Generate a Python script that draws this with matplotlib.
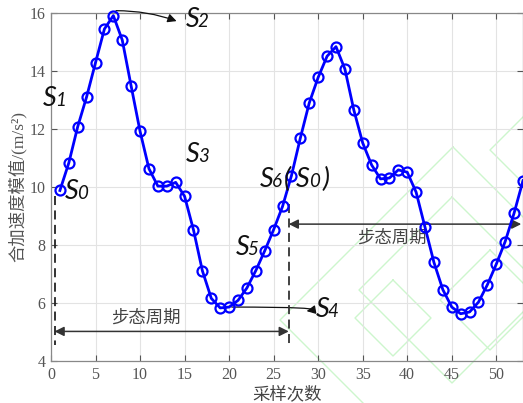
import matplotlib
matplotlib.use("Agg")
import matplotlib.pyplot as plt
from matplotlib.lines import Line2D
import numpy as np

# ---- data ----
samples = list(range(1, 54))
accel = [9.88, 10.83, 12.08, 13.11, 14.29, 15.45, 15.91, 15.07, 13.48, 11.92,
         10.63, 10.03, 10.03, 10.16, 9.68, 8.52, 7.11, 6.16, 5.83, 5.86,
         6.09, 6.52, 7.12, 7.80, 8.53, 9.33, 10.39, 11.69, 12.90, 13.78,
         14.51, 14.84, 14.07, 12.66, 11.52, 10.76, 10.28, 10.31, 10.59, 10.51,
         9.82, 8.61, 7.40, 6.46, 5.86, 5.63, 5.69, 6.03, 6.63, 7.34,
         8.12, 9.10, 10.22]
xticks = [0, 5, 10, 15, 20, 25, 30, 35, 40, 45, 50]
yticks = [4, 6, 8, 10, 12, 14, 16]
xlabel = "采样次数"
ylabel = "合加速度模值/(m/s²)"
period_label = "步态周期"
cycle_start = 0.4
cycle_end = 26.7
cycle2_end = 52.8

serif_cjk = ['Liberation Serif', 'Noto Sans CJK SC']
label_family = ['Lato', 'DejaVu Sans']
W, H = 523, 403

fig = plt.figure(figsize=(5.23, 4.03), dpi=100)
ax = fig.add_axes([51/W, 1-361/H, (W-51)/W, (361-13)/H])
ax.patch.set_alpha(0)

# faint green watermark diamonds (background decoration)
def diamond(cx, cy, r):
    xs = np.array([cx, cx + r, cx, cx - r, cx]) / W
    ys = 1 - np.array([cy - r, cy, cy + r, cy, cy - r]) / H
    fig.add_artist(Line2D(xs, ys, transform=fig.transFigure, color='#cdf6cd',
                          lw=1.0, zorder=-1))
for cx, cy, r in [(453, 320, 173), (452, 290, 93), (393, 318, 38),
                  (490, 300, 50), (560, 150, 70)]:
    diamond(cx, cy, r)

ax.plot(samples, accel, color='#0000ff', lw=2.0, marker='o', ms=7.2,
        mfc='none', mec='#0000ff', mew=1.6, zorder=5, clip_on=False)

ax.set_xlim(0, 53)
ax.set_ylim(4, 16)
ax.set_xticks(xticks)
ax.set_yticks(yticks)
ax.grid(True, color='#e3e3e3', lw=0.8)
ax.set_axisbelow(True)
ax.tick_params(direction='in', length=4, colors='#555555', labelsize=11.5,
               top=True, right=True, width=0.8, pad=4)
for lab in ax.get_xticklabels() + ax.get_yticklabels():
    lab.set_family('Liberation Serif')
    lab.set_color('#555555')
for s in ax.spines.values():
    s.set_color('#888888')
    s.set_linewidth(0.9)

ax.set_xlabel(xlabel, family=serif_cjk, fontsize=12.5, color='#444444', labelpad=3)
ax.set_ylabel(ylabel, family=serif_cjk, fontsize=12.5, color='#555555', labelpad=2)

# dashed cycle boundaries
ax.plot([cycle_start, cycle_start], [9.7, 4.55], ls=(0, (5, 3)), color='#222222', lw=1.3, zorder=4)
ax.plot([cycle_end, cycle_end], [9.4, 4.55], ls=(0, (5, 3)), color='#333333', lw=1.3, zorder=4)

# period arrows
ax.annotate('', xy=(cycle_start, 5.02), xytext=(cycle_end, 5.02),
            arrowprops=dict(arrowstyle='<|-|>', color='#333333', lw=1.1,
                            mutation_scale=14, shrinkA=0, shrinkB=0))
ax.text(10.7, 5.45, period_label, family=serif_cjk, fontsize=12.5,
        color='#444444', ha='center', va='center')
ax.annotate('', xy=(cycle_end, 8.72), xytext=(cycle2_end, 8.72),
            arrowprops=dict(arrowstyle='<|-|>', color='#333333', lw=1.1,
                            mutation_scale=14, shrinkA=0, shrinkB=0),
            annotation_clip=False)
ax.text(38.3, 8.24, period_label, family=serif_cjk, fontsize=12.5,
        color='#444444', ha='center', va='center')

# state labels: big italic S + small digit
BIG, SMALL = 19.5, 13.5
def piece(x, y, s, dx, size):
    ax.annotate(s, xy=(x, y), xytext=(dx, 0), textcoords='offset points',
                family=label_family, style='italic', fontsize=size, color='#111111',
                ha='left', va='baseline', zorder=6, annotation_clip=False)

def state(x, y, digit):
    piece(x, y, 'S', 0, BIG)
    piece(x, y, digit, 8.8, SMALL)

state(1.6, 9.6, '0')
state(-0.9, 12.8, '1')
state(15.1, 15.52, '2')
state(15.1, 10.86, '3')
state(29.7, 5.53, '4')
state(20.7, 7.67, '5')
# S6(S0)
state(23.4, 10.0, '6')
piece(23.4, 10.0, '(', 17.3, BIG)
piece(23.4, 10.0, 'S', 26.0, BIG)
piece(23.4, 10.0, '0', 36.0, SMALL)
piece(23.4, 10.0, ')', 45.4, BIG)

# curved arrows
ax.annotate('', xy=(14.1, 15.72), xytext=(7.3, 16.08),
            arrowprops=dict(arrowstyle='-|>', color='#111111', lw=0.9,
                            mutation_scale=13, shrinkA=0, shrinkB=0,
                            connectionstyle='angle3,angleA=0,angleB=-20'),
            annotation_clip=False)
ax.annotate('', xy=(28.7, 5.72), xytext=(20.3, 5.86),
            arrowprops=dict(arrowstyle='-|>', color='#111111', lw=0.9,
                            mutation_scale=13, shrinkA=0, shrinkB=0,
                            connectionstyle='angle3,angleA=0,angleB=10'))

fig.savefig('out.png', dpi=100)
